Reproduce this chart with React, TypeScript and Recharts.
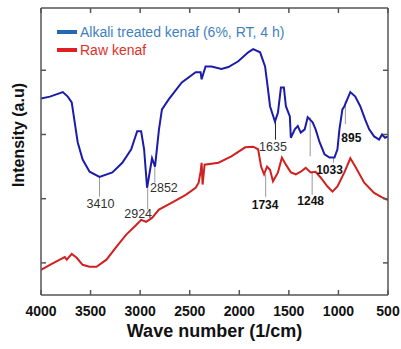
import { LineChart, Line, XAxis, YAxis, ReferenceLine, ReferenceDot, Legend } from "recharts"

const FONT = "'Liberation Sans', Arial, sans-serif"

// alkali treated kenaf (6%, RT, 4 h)
const alkaliWn = [4000, 3910, 3780, 3730, 3690, 3660, 3630, 3580, 3510, 3410, 3280, 3180, 3090, 3030, 2990, 2960, 2930, 2880, 2850, 2810, 2780, 2710, 2580, 2440, 2390, 2380, 2340, 2280, 2180, 2110, 2010, 1910, 1860, 1790, 1740, 1710, 1690, 1640, 1610, 1580, 1550, 1530, 1490, 1480, 1440, 1410, 1380, 1340, 1310, 1260, 1230, 1190, 1140, 1090, 1040, 1010, 990, 960, 940, 910, 880, 830, 780, 730, 690, 640, 590, 560, 530, 500]
const alkaliVal = [3.06, 3.09, 3.16, 3.09, 3.0, 2.69, 2.38, 2.11, 1.92, 1.84, 1.91, 2.06, 2.27, 2.55, 2.55, 2.27, 1.67, 2.13, 2.0, 2.58, 2.89, 3.05, 3.31, 3.47, 3.47, 3.36, 3.56, 3.56, 3.52, 3.55, 3.64, 3.78, 3.83, 3.78, 3.56, 3.2, 2.94, 2.7, 2.84, 3.23, 3.23, 2.94, 2.78, 2.45, 2.58, 2.63, 2.53, 2.58, 2.77, 2.69, 2.58, 2.38, 2.19, 2.14, 2.14, 2.27, 2.58, 2.89, 2.94, 3.05, 3.16, 3.09, 2.94, 2.73, 2.58, 2.47, 2.42, 2.5, 2.45, 2.47]

// raw kenaf
const rawWn = [4000, 3910, 3810, 3760, 3740, 3690, 3640, 3580, 3510, 3440, 3340, 3240, 3140, 3040, 2990, 2940, 2880, 2810, 2680, 2540, 2440, 2410, 2390, 2380, 2370, 2350, 2210, 2080, 1940, 1860, 1810, 1780, 1750, 1720, 1690, 1660, 1610, 1570, 1530, 1480, 1430, 1380, 1330, 1280, 1230, 1180, 1110, 1060, 1010, 940, 880, 830, 740, 640, 560, 500]
const rawVal = [0.39, 0.47, 0.55, 0.59, 0.55, 0.64, 0.58, 0.47, 0.44, 0.44, 0.55, 0.75, 0.94, 1.09, 1.17, 1.14, 1.2, 1.33, 1.44, 1.56, 1.67, 1.75, 1.92, 2.06, 1.72, 2.03, 2.06, 2.16, 2.3, 2.31, 2.27, 2.0, 1.88, 2.0, 1.95, 1.77, 1.91, 2.14, 2.03, 1.91, 1.88, 1.92, 1.98, 1.91, 1.92, 1.83, 1.69, 1.61, 1.69, 1.91, 2.13, 2.0, 1.75, 1.59, 1.52, 1.48]

const xTicks = [4000, 3500, 3000, 2500, 2000, 1500, 1000, 500]
const yTicks = [0.5, 1.5, 2.5, 3.5]

// peak marks: leader line (wn, y1 -> y2) and label centre (tx, ty)
const peaks = [
  { text: "3410", wn: 3410, y1: 1.84, y2: 1.53, tx: 3400, ty: 1.42 },
  { text: "2924", wn: 2924, y1: 1.67, y2: 1.33, tx: 3020, ty: 1.27 },
  { text: "2852", wn: 2852, y1: 2.0, y2: 1.75, tx: 2760, ty: 1.67 },
  { text: "1635", wn: 1635, y1: 2.7, y2: 2.42, tx: 1660, ty: 2.31 },
  { text: "1734", wn: 1734, y1: 1.88, y2: 1.53, tx: 1740, ty: 1.41 },
  { text: "1248", wn: 1265, y1: 1.92, y2: 1.56, tx: 1280, ty: 1.47 },
  { text: "", wn: 1285, y1: 2.77, y2: 2.16, tx: 1285, ty: 2.16 },
  { text: "1033", wn: 1050, y1: 2.14, y2: 2.06, tx: 1090, ty: 1.95 },
  { text: "895", wn: 930, y1: 3.02, y2: 2.66, tx: 870, ty: 2.45 },
]
const boldPeaks = ["1734", "1248", "1033", "895"]

const alkaliData = alkaliWn.map((wn, i) => ({ wn, v: alkaliVal[i] }))
const rawData = rawWn.map((wn, i) => ({ wn, v: rawVal[i] }))

const legendText: Record<string, string> = {
  "Alkali treated kenaf (6%, RT, 4 h)": "#3f7fc0",
  "Raw kenaf": "#e0302a",
}
const legendSwatch: Record<string, string> = {
  "Alkali treated kenaf (6%, RT, 4 h)": "#2468b4",
  "Raw kenaf": "#e02020",
}

const renderLegend = (props: any) => (
  <div style={{ fontFamily: FONT, fontSize: 14 }}>
    {(props.payload || [])
      .filter((p: any) => legendText[p.value])
      .map((p: any) => (
        <div key={p.value} style={{ display: "flex", alignItems: "center", height: 18 }}>
          <span style={{ width: 20, height: 4, background: legendSwatch[p.value], marginRight: 3 }} />
          <span style={{ color: legendText[p.value], whiteSpace: "nowrap" }}>{p.value}</span>
        </div>
      ))}
  </div>
)

// axes without labels still need their tick marks
const noLabel = () => <g />

const frame = { stroke: "#555", strokeWidth: 1.5 }

export default function App() {
  return (
    <div style={{ position: "absolute", left: 0, top: 0, background: "#fff" }}>
      <LineChart width={401} height={349} margin={{ top: 8, right: 13, left: 0, bottom: 0 }}>
        <XAxis
          dataKey="wn"
          type="number"
          domain={[500, 4000]}
          reversed
          ticks={xTicks}
          interval={0}
          allowDataOverflow
          height={54}
          tickSize={-5}
          tickMargin={16}
          axisLine={frame}
          tickLine={frame}
          tick={{ fill: "#111", fontSize: 14, fontWeight: "bold", fontFamily: FONT }}
          label={{
            value: "Wave number (1/cm)",
            position: "insideBottom",
            offset: 12,
            fill: "#111",
            fontSize: 18,
            fontWeight: "bold",
            fontFamily: FONT,
          }}
        />
        <XAxis
          xAxisId="top"
          dataKey="wn"
          type="number"
          domain={[500, 4000]}
          reversed
          ticks={xTicks}
          interval={0}
          allowDataOverflow
          orientation="top"
          mirror
          tick={noLabel}
          tickSize={5}
          axisLine={frame}
          tickLine={frame}
        />
        <YAxis
          type="number"
          domain={[0, 4.47]}
          ticks={yTicks}
          interval={0}
          width={41}
          tick={noLabel}
          tickSize={-5}
          axisLine={frame}
          tickLine={frame}
          label={{
            content: () => (
              <text
                transform="translate(24,135) rotate(-90)"
                textAnchor="middle"
                fill="#111"
                fontSize={16}
                fontWeight="bold"
                fontFamily={FONT}
              >
                Intensity (a.u)
              </text>
            ),
          }}
        />
        <YAxis
          yAxisId="right"
          type="number"
          domain={[0, 4.47]}
          ticks={yTicks}
          interval={0}
          allowDataOverflow
          orientation="right"
          mirror
          tick={noLabel}
          tickSize={5}
          axisLine={frame}
          tickLine={frame}
        />
        <Legend
          layout="vertical"
          align="center"
          verticalAlign="middle"
          content={renderLegend}
          wrapperStyle={{ left: 57, top: 23, width: "auto" }}
        />
        {peaks.map((p, i) => (
          <ReferenceLine
            key={"l" + i}
            segment={[
              { x: p.wn, y: p.y1 },
              { x: p.wn, y: p.y2 },
            ]}
            stroke={p.text === "1635" ? "#222" : "#999"}
            strokeWidth={1}
          />
        ))}
        {/* invisible copy so the top/right frame axes have a series bound to them */}
        <Line
          xAxisId="top"
          yAxisId="right"
          data={rawData}
          dataKey="v"
          stroke="none"
          dot={false}
          legendType="none"
          isAnimationActive={false}
        />
        <Line
          name="Alkali treated kenaf (6%, RT, 4 h)"
          data={alkaliData}
          dataKey="v"
          type="linear"
          stroke="#1c1caa"
          strokeWidth={2}
          dot={false}
          isAnimationActive={false}
        />
        <Line
          name="Raw kenaf"
          data={rawData}
          dataKey="v"
          type="linear"
          stroke="#d02020"
          strokeWidth={2}
          dot={false}
          isAnimationActive={false}
        />
        {peaks
          .filter((p) => p.text)
          .map((p, i) => (
            <ReferenceDot
              key={"t" + i}
              x={p.tx}
              y={p.ty}
              r={0}
              fill="none"
              stroke="none"
              label={{
                value: p.text,
                position: "center",
                fill: boldPeaks.includes(p.text) ? "#111" : "#333",
                fontSize: boldPeaks.includes(p.text) ? 12 : 12.5,
                fontWeight: boldPeaks.includes(p.text) ? "bold" : "normal",
                fontFamily: FONT,
              }}
            />
          ))}
      </LineChart>
    </div>
  )
}
